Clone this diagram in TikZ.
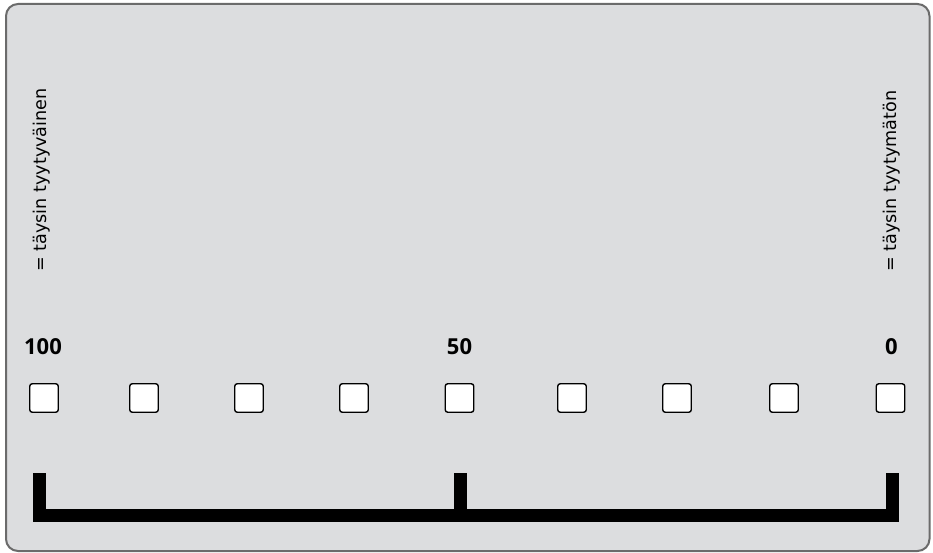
\documentclass[tikz,border=0pt]{standalone}
\usepackage{fontspec}
\setmainfont{Open Sans}
\newfontfamily\sidefont{DejaVu Sans}
\definecolor{panelbg}{HTML}{DCDDDF}
\definecolor{panelborder}{HTML}{6B6B6B}
\begin{document}
\begin{tikzpicture}[x=1pt,y=-1pt,
  panel/.style={draw=panelborder,fill=panelbg,line width=2pt,rounded corners=12pt},
  checkbox/.style={draw=black,fill=white,line width=1.4pt,rounded corners=2.5pt,minimum width=28.5pt,minimum height=28.5pt,inner sep=0pt},
  numlabel/.style={font=\fontsize{22}{26}\selectfont\bfseries,inner sep=0pt,anchor=base},
  sidelabel/.style={font=\sidefont\fontsize{17.6}{20}\selectfont,inner sep=0pt,anchor=base west,rotate=90},
  bracket/.style={line width=13pt,line join=miter,line cap=butt}]
\useasboundingbox (0,0) rectangle (933,553);
\draw[panel] (6,4) rectangle (929.5,551);
\node[sidelabel] (lefttext) at (46.5,272) {= täysin tyytyväinen};
\node[sidelabel] (righttext) at (896.5,272) {= täysin tyytymätön};
\node[numlabel] (n100) at (43,354) {100};
\node[numlabel] (n50) at (459.5,354) {50};
\node[numlabel] (n0) at (891.5,354) {0};
\foreach \i/\x in {1/44,2/144,3/249,4/354,5/459.5,6/572,7/677,8/784,9/890.5}
  \node[checkbox] (box\i) at (\x,398) {};
\coordinate (bl) at (39.5,473);
\coordinate (bm) at (460.5,473);
\coordinate (br) at (892.5,473);
\draw[bracket] (bl) -- (39.5,515.5) -- (892.5,515.5) -- (br);
\draw[bracket] (bm) -- (460.5,515.5);
\end{tikzpicture}
\end{document}
